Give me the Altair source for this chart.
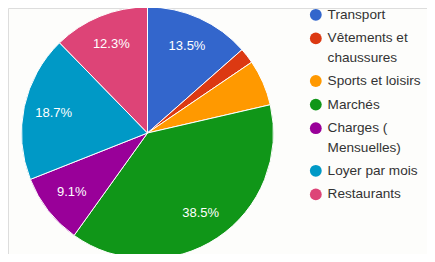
import altair as alt
import pandas as pd

categories = [
    "Transport",
    "Vêtements et|chaussures",
    "Sports et loisirs",
    "Marchés",
    "Charges (|Mensuelles)",
    "Loyer par mois",
    "Restaurants",
]
values = [13.5, 2.0, 5.9, 38.5, 9.1, 18.7, 12.3]
colors = ["#3366cc", "#dc3912", "#ff9900", "#109618", "#990099", "#0099c6", "#dd4477"]

df = pd.DataFrame({"cat": categories, "value": values, "order": list(range(len(values)))})

FONT = "Liberation Sans"

base = alt.Chart(df).encode(
    theta=alt.Theta("value:Q", stack=True),
    order=alt.Order("order:Q"),
    x=alt.value(139.5),
    y=alt.value(125),
)

pie = base.mark_arc(radius=126, stroke="white", strokeWidth=1).encode(
    color=alt.Color(
        "cat:N",
        sort=categories,
        scale=alt.Scale(domain=categories, range=colors),
        legend=alt.Legend(
            title=None,
            orient="none",
            legendX=301,
            legendY=0,
            symbolType="circle",
            symbolSize=140,
            symbolStrokeWidth=0,
            labelFont=FONT,
            labelFontSize=13.6,
            labelColor="#333333",
            labelOffset=5,
            labelExpr="split(datum.label, '|')",
            rowPadding=8.6,
            labelLimit=200,
        ),
    )
)

labels = base.transform_calculate(
    lab="datum.value > 8 ? format(datum.value, '.1f') + '%' : ''"
).mark_text(radius=96, color="white", fontSize=13, font=FONT).encode(text="lab:N")

chart = (
    alt.layer(pie, labels)
    .properties(width=419, height=246, autosize=alt.AutoSizeParams(type="none"), padding=0, background="#fdfdfb")
    .configure_view(stroke=None)
    .configure(style={"guide-label": {"lineHeight": 19.5}})
)

chart.save("out.html", embed_options={"renderer": "svg", "actions": False})
